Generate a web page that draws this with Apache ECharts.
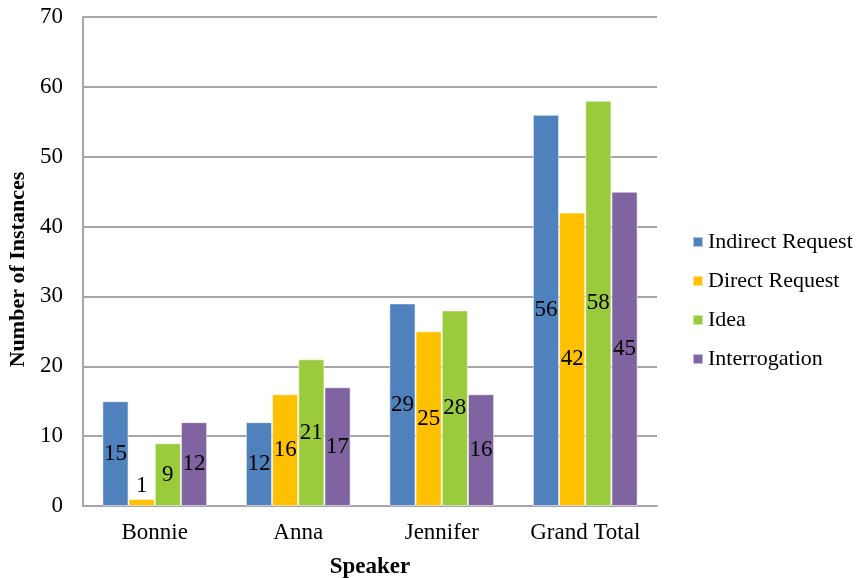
<!DOCTYPE html>
<html>
<head>
<meta charset="utf-8">
<script src="https://cdn.jsdelivr.net/npm/echarts@6/dist/echarts.min.js"></script>
<style>
  html, body { margin: 0; padding: 0; background: #ffffff; }
  #chart { width: 860px; height: 578px; }
</style>
</head>
<body>
<div id="chart"></div>
<script>
// Speech act counts per speaker
var speakers = ['Bonnie', 'Anna', 'Jennifer', 'Grand Total'];
var indirectRequest = [15, 12, 29, 56];
var directRequest = [1, 16, 25, 42];
var idea = [9, 21, 28, 58];
var interrogation = [12, 17, 16, 45];
var seriesNames = ['Indirect Request', 'Direct Request', 'Idea', 'Interrogation'];
var seriesColors = ['#4F81BD', '#FFC000', '#9ACB3C', '#8064A2'];
var yTicks = [0, 10, 20, 30, 40, 50, 60, 70];

var FONT = '"Liberation Serif", "Times New Roman", serif';
var chart = echarts.init(document.getElementById('chart'), null, { renderer: 'canvas' });

function makeSeries(name, values, color) {
  return {
    name: name,
    type: 'bar',
    barGap: '0%',
    barCategoryGap: '27%',
    data: values.map(function (v) {
      var item = { value: v };
      // very short bars get their label just above the bar
      if (v < 3) item.label = { position: 'top', distance: 2 };
      return item;
    }),
    itemStyle: { color: color, borderColor: 'rgba(255,255,255,0.55)', borderWidth: 1 },
    label: {
      show: true,
      position: 'inside',
      color: '#000000',
      fontFamily: FONT,
      fontSize: 23
    }
  };
}

var allSeries = [
  makeSeries(seriesNames[0], indirectRequest, seriesColors[0]),
  makeSeries(seriesNames[1], directRequest, seriesColors[1]),
  makeSeries(seriesNames[2], idea, seriesColors[2]),
  makeSeries(seriesNames[3], interrogation, seriesColors[3])
];

chart.setOption({
  animation: false,
  textStyle: { fontFamily: FONT },
  grid: { left: 83, right: 203, top: 17, bottom: 72, outerBoundsMode: 'none', containLabel: false },
  legend: {
    orient: 'vertical',
    left: 687,
    top: 226,
    itemWidth: 10,
    itemHeight: 10,
    itemGap: 17,
    icon: 'rect',
    data: seriesNames,
    textStyle: { fontFamily: FONT, fontSize: 22, color: '#000000', padding: [0, 0, 0, 0] }
  },
  xAxis: {
    type: 'category',
    data: speakers,
    name: 'Speaker',
    nameLocation: 'middle',
    nameGap: 50,
    nameTextStyle: { fontFamily: FONT, fontSize: 23, fontWeight: 'bold', color: '#000000' },
    axisLine: { lineStyle: { color: '#A6A6A6', width: 2 } },
    axisTick: { show: false },
    axisLabel: { fontFamily: FONT, fontSize: 23, color: '#000000', margin: 15 }
  },
  yAxis: {
    type: 'value',
    min: yTicks[0],
    max: yTicks[yTicks.length - 1],
    interval: 10,
    name: 'Number of Instances',
    nameLocation: 'middle',
    nameGap: 48,
    nameTextStyle: { fontFamily: FONT, fontSize: 22, fontWeight: 'bold', color: '#000000', padding: [0, 16, 0, 0] },
    axisLine: { show: true, lineStyle: { color: '#A6A6A6', width: 2 } },
    axisTick: { show: false },
    splitLine: { lineStyle: { color: '#A6A6A6', width: 2 } },
    axisLabel: { fontFamily: FONT, fontSize: 23, color: '#000000', margin: 20 }
  },
  series: allSeries
});
</script>
</body>
</html>
